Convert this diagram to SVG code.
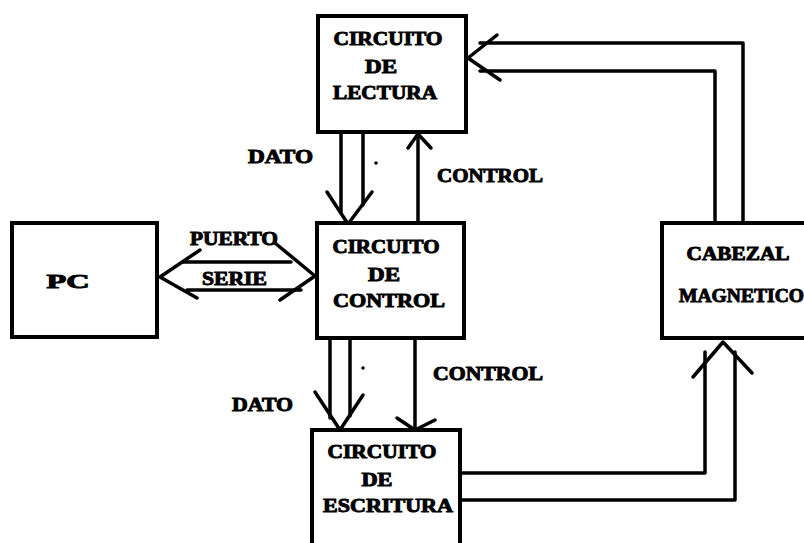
<svg xmlns="http://www.w3.org/2000/svg" width="804" height="543" viewBox="0 0 804 543">
<style>
.box{fill:#fff;stroke:#000;stroke-width:4}
.ln{fill:none;stroke:#000;stroke-width:3.5;stroke-linejoin:round;stroke-linecap:round}
.t{font-family:"Liberation Serif","Times New Roman",serif;font-weight:bold;font-size:18px;fill:#000;stroke:#000;stroke-width:0.9}
.m{text-anchor:middle}
</style>
<rect width="804" height="543" fill="#fff"/>
<g id="connectors">
  <!-- lectura -> control (DATO) -->
  <path class="ln" d="M341,134 V212"/>
  <path class="ln" d="M363,134 V205"/>
  <path class="ln" d="M327,192 L348,224 L372,192"/>
  <circle cx="376" cy="163" r="1.8"/>
  <!-- control -> lectura (CONTROL) -->
  <path class="ln" d="M418,223 V136"/>
  <path class="ln" d="M408,148 L418,134 L431,148"/>
  <!-- PC <-> control (PUERTO SERIE) -->
  <path class="ln" d="M183,262 H291"/>
  <path class="ln" d="M187,290 H301"/>
  <path class="ln" d="M200,250 L160,277 L197,298"/>
  <path class="ln" d="M275,243 L315,276 L280,300"/>
  <!-- control -> escritura (DATO) -->
  <path class="ln" d="M330,340 V418"/>
  <path class="ln" d="M350,340 V416"/>
  <path class="ln" d="M315,392 L340,430 L363,395"/>
  <circle cx="363" cy="368" r="1.8"/>
  <!-- control -> escritura (CONTROL) -->
  <path class="ln" d="M415,340 V428"/>
  <path class="ln" d="M397,418 L415,430 L435,420"/>
  <!-- cabezal -> lectura -->
  <path class="ln" d="M743,223 V43 H480"/>
  <path class="ln" d="M715,223 V71 H480"/>
  <path class="ln" d="M497,35 L468,58 L500,80"/>
  <!-- escritura -> cabezal -->
  <path class="ln" d="M460,473 H705 V352"/>
  <path class="ln" d="M460,500 H735 V352"/>
  <path class="ln" d="M693,377 L723,342 L752,373"/>
</g>
<g id="lectura">
  <rect class="box" x="318" y="16" width="148" height="116"/>
  <text class="t m" x="388" y="45" textLength="109" lengthAdjust="spacingAndGlyphs">CIRCUITO</text>
  <text class="t m" x="381" y="73" textLength="32" lengthAdjust="spacingAndGlyphs">DE</text>
  <text class="t m" x="385" y="99" textLength="104" lengthAdjust="spacingAndGlyphs">LECTURA</text>
</g>
<g id="control">
  <rect class="box" x="317" y="223" width="147" height="115"/>
  <text class="t m" x="386" y="253" textLength="107" lengthAdjust="spacingAndGlyphs">CIRCUITO</text>
  <text class="t m" x="384" y="281" textLength="32" lengthAdjust="spacingAndGlyphs">DE</text>
  <text class="t m" x="389" y="307" textLength="112" lengthAdjust="spacingAndGlyphs">CONTROL</text>
</g>
<g id="pc">
  <rect class="box" x="12" y="223" width="145" height="114"/>
  <text class="t m" x="68" y="288" font-size="20" textLength="43" lengthAdjust="spacingAndGlyphs">PC</text>
</g>
<g id="escritura">
  <rect class="box" x="312" y="430" width="148" height="125"/>
  <text class="t m" x="382" y="458" textLength="109" lengthAdjust="spacingAndGlyphs">CIRCUITO</text>
  <text class="t m" x="377" y="486" textLength="31" lengthAdjust="spacingAndGlyphs">DE</text>
  <text class="t m" x="388" y="512" textLength="130" lengthAdjust="spacingAndGlyphs">ESCRITURA</text>
</g>
<g id="cabezal">
  <rect class="box" x="662" y="223" width="150" height="115"/>
  <text class="t m" x="738" y="260" textLength="103" lengthAdjust="spacingAndGlyphs">CABEZAL</text>
  <text class="t" x="679" y="302" textLength="125" lengthAdjust="spacingAndGlyphs">MAGNETICO</text>
</g>
<g id="labels">
  <text class="t" x="248" y="163" textLength="65" lengthAdjust="spacingAndGlyphs">DATO</text>
  <text class="t" x="437" y="182" textLength="106" lengthAdjust="spacingAndGlyphs">CONTROL</text>
  <text class="t" x="190" y="245" textLength="88" lengthAdjust="spacingAndGlyphs">PUERTO</text>
  <text class="t" x="202" y="285" textLength="65" lengthAdjust="spacingAndGlyphs">SERIE</text>
  <text class="t" x="433" y="380" textLength="110" lengthAdjust="spacingAndGlyphs">CONTROL</text>
  <text class="t" x="232" y="411" textLength="61" lengthAdjust="spacingAndGlyphs">DATO</text>
</g>
</svg>
